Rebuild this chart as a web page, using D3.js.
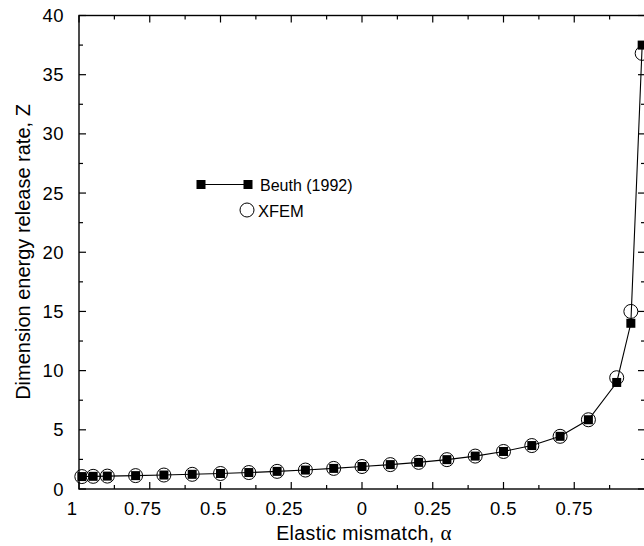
<!DOCTYPE html>
<html>
<head>
<meta charset="utf-8">
<script src="https://cdn.jsdelivr.net/npm/d3@7"></script>
<style>
  body { margin: 0; background: #fff; }
  text { font-family: "Liberation Sans", Arial, sans-serif; fill: #000; }
</style>
</head>
<body>
<div id="chart"></div>
<script>
// datos
const alpha = [-0.99, -0.95, -0.9, -0.8, -0.7, -0.6, -0.5, -0.4, -0.3, -0.2, -0.1, 0,
  0.1, 0.2, 0.3, 0.4, 0.5, 0.6, 0.7, 0.8, 0.9, 0.95, 0.99];
const beuth = [1.05, 1.07, 1.09, 1.13, 1.18, 1.24, 1.31, 1.39, 1.49, 1.60, 1.74, 1.90,
  2.06, 2.25, 2.48, 2.78, 3.17, 3.67, 4.45, 5.85, 9.0, 14.0, 37.5];
const xfem = [1.05, 1.07, 1.09, 1.13, 1.18, 1.24, 1.31, 1.39, 1.49, 1.60, 1.74, 1.90,
  2.06, 2.25, 2.48, 2.78, 3.17, 3.67, 4.45, 5.85, 9.4, 15.0, 36.8];
const xTicks = [-1, -0.75, -0.5, -0.25, 0, 0.25, 0.5, 0.75, 1];
const xLabels = ["1", "0.75", "0.5", "0.25", "0", "0.25", "0.5", "0.75", ""]; // el 1 de la derecha queda fuera
const xMinor = [-0.875, -0.625, -0.375, -0.125, 0.125, 0.375, 0.625, 0.875];
const yTicks = [0, 5, 10, 15, 20, 25, 30, 35, 40];
const yMinor = [2.5, 7.5, 12.5, 17.5, 22.5, 27.5, 32.5, 37.5];

const width = 644, height = 546;
const mLeft = 79, mRight = 645, mTop = 15.5, mBottom = 489;

const svg = d3.select("#chart").append("svg")
  .attr("width", width)
  .attr("height", height);

const x = d3.scaleLinear().domain([-1, 1]).range([mLeft, mRight]);
const y = d3.scaleLinear().domain([0, 40]).range([mBottom, mTop]);

// marco
svg.append("rect")
  .attr("x", mLeft).attr("y", mTop)
  .attr("width", mRight - mLeft).attr("height", mBottom - mTop)
  .style("fill", "none").style("stroke", "#000").style("stroke-width", 1.4);

// marcas hacia dentro en los cuatro lados
function marcas(g, escala, valores, largo, lado) {
  g.selectAll(null).data(valores).enter().append("line")
    .attr("x1", d => lado === "x" ? escala(d) : mLeft)
    .attr("x2", d => lado === "x" ? escala(d) : mLeft + largo)
    .attr("y1", d => lado === "x" ? mBottom : escala(d))
    .attr("y2", d => lado === "x" ? mBottom - largo : escala(d))
    .style("stroke", "#000").style("stroke-width", 1.2);
  g.selectAll(null).data(valores).enter().append("line")
    .attr("x1", d => lado === "x" ? escala(d) : mRight)
    .attr("x2", d => lado === "x" ? escala(d) : mRight - largo)
    .attr("y1", d => lado === "x" ? mTop : escala(d))
    .attr("y2", d => lado === "x" ? mTop + largo : escala(d))
    .style("stroke", "#000").style("stroke-width", 1.2);
}
const ticks = svg.append("g");
marcas(ticks, x, xTicks, 7, "x");
marcas(ticks, x, xMinor, 4, "x");
marcas(ticks, y, yTicks, 7, "y");
marcas(ticks, y, yMinor, 4, "y");

// etiquetas de los ejes (el signo menos no aparece en la figura original)
svg.selectAll(".xlab").data(xTicks).enter().append("text")
  .attr("class", "xlab")
  .attr("x", d => x(d) + (d < 0 ? -7 : 0))
  .attr("y", 514.5)
  .attr("text-anchor", "middle")
  .style("font-size", "18.5px")
  .style("letter-spacing", "0.4px")
  .text((d, i) => xLabels[i]);

svg.selectAll(".ylab").data(yTicks).enter().append("text")
  .attr("class", "ylab")
  .attr("x", 64)
  .attr("y", d => y(d) + 6.6)
  .attr("text-anchor", "end")
  .style("font-size", "18.5px")
  .style("letter-spacing", "0.4px")
  .text(d => d);

const xt = svg.append("text")
  .attr("x", 364).attr("y", 540)
  .attr("text-anchor", "middle")
  .style("font-size", "19.5px")
  .style("letter-spacing", "0.4px")
  .text("Elastic mismatch, ");
xt.append("tspan").style("font-family", "'Liberation Serif', serif").style("font-size", "21px").text("α");

svg.append("text")
  .attr("transform", "translate(30,252) rotate(-90)")
  .attr("text-anchor", "middle")
  .style("font-size", "20px")
  .text("Dimension energy release rate, Z");

// series
const puntosB = alpha.map((a, i) => [a, beuth[i]]);
const puntosX = alpha.map((a, i) => [a, xfem[i]]);

svg.selectAll(".xfem").data(puntosX).enter().append("circle")
  .attr("class", "xfem")
  .attr("cx", d => x(d[0])).attr("cy", d => y(d[1]))
  .attr("r", 7)
  .style("fill", "none").style("stroke", "#000").style("stroke-width", 1);

svg.append("path")
  .datum(puntosB)
  .attr("d", d3.line().x(d => x(d[0])).y(d => y(d[1])))
  .style("fill", "none").style("stroke", "#000").style("stroke-width", 1.1);

svg.selectAll(".beuth").data(puntosB).enter().append("rect")
  .attr("class", "beuth")
  .attr("x", d => x(d[0]) - 4.5).attr("y", d => y(d[1]) - 4.5)
  .attr("width", 9).attr("height", 9)
  .style("fill", "#000");

// leyenda
const ley = svg.append("g");
ley.append("line").attr("x1", 201).attr("x2", 248).attr("y1", 184.5).attr("y2", 184.5)
  .style("stroke", "#000").style("stroke-width", 1.1);
ley.selectAll(null).data([201, 248]).enter().append("rect")
  .attr("x", d => d - 4.5).attr("y", 180).attr("width", 9).attr("height", 9)
  .style("fill", "#000");
ley.append("text").attr("x", 260).attr("y", 191).style("font-size", "16px").text("Beuth (1992)");
ley.append("circle").attr("cx", 247).attr("cy", 210).attr("r", 7)
  .style("fill", "none").style("stroke", "#000").style("stroke-width", 1);
ley.append("text").attr("x", 258).attr("y", 216.5).style("font-size", "16.5px").text("XFEM");
</script>
</body>
</html>
